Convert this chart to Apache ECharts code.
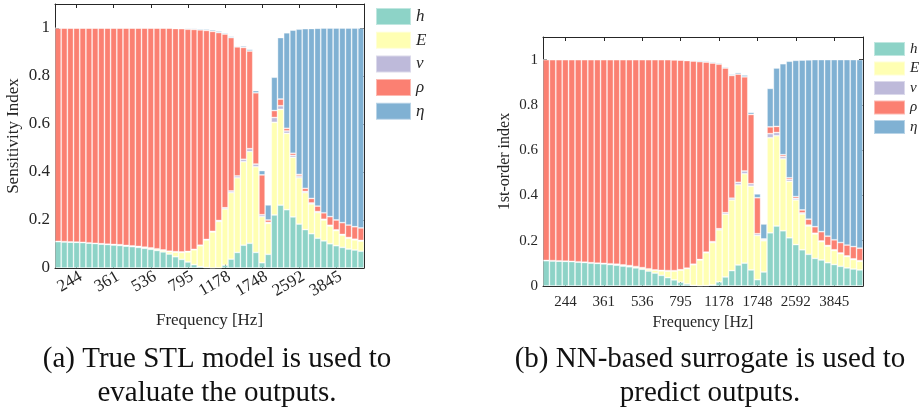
<!DOCTYPE html>
<html><head><meta charset="utf-8">
<script src="https://cdn.jsdelivr.net/npm/echarts@6/dist/echarts.min.js"></script>
<style>html,body{margin:0;padding:0;background:#fff}#c{width:921px;height:412px}</style>
</head><body><div id="c"></div>
<script>
// Frequency categories [Hz] (50 bars, log spaced)
const freqs = ['200','214','228','244','260','278','297','317','338','361','386','412','440','470','502','536','572','611','652','697','744','795','849','906','968','1033','1104','1178','1258','1344','1435','1533','1637','1748','1867','1993','2129','2273','2427','2592','2768','2956','3157','3371','3600','3845','4106','4384','4682','5000'];
const tickLabels = ['244','361','536','795','1178','1748','2592','3845'];
const yTicks = [0, 0.2, 0.4, 0.6, 0.8, 1];
const seriesNames = ['h','E','ν','ρ','η'];

// (a) True STL model
const hA   = [.110,.109,.108,.107,.106,.104,.102,.100,.098,.096,.094,.091,.089,.086,.082,.078,.073,.067,.058,.047,.036,.025,.014,.006,.002,.000,.001,.012,.037,.065,.095,.103,.065,.022,.057,.221,.262,.243,.213,.183,.160,.143,.124,.113,.101,.093,.086,.079,.075,.070];
const EA   = [0,0,0,0,0,0,0,0,0,.001,.002,.002,.002,.003,.004,.005,.006,.007,.010,.019,.029,.042,.062,.087,.115,.150,.193,.234,.277,.311,.348,.382,.357,.192,.129,.386,.399,.318,.248,.193,.154,.124,.107,.087,.074,.063,.051,.045,.042,.042];
const nuA  = [.001,.001,.001,.001,.001,.001,.001,.001,.001,.001,.001,.001,.001,.001,.001,.001,.001,.001,.002,.002,.002,.002,.002,.002,.002,.003,.004,.005,.007,.008,.010,.012,.011,.008,.004,.020,.015,.010,.008,.007,.005,.004,.004,.003,.003,.003,.003,.003,.003,.003];
const rhoA = [.889,.890,.891,.892,.893,.895,.897,.899,.901,.902,.903,.906,.908,.910,.913,.916,.920,.925,.930,.930,.930,.926,.916,.897,.871,.833,.783,.724,.639,.537,.466,.407,.297,.166,.010,.029,.028,.011,.009,.007,.013,.019,.023,.027,.036,.041,.049,.052,.052,.052];
const etaA = [0,0,0,0,0,0,0,0,0,0,0,0,0,0,0,0,0,0,0,.002,.003,.004,.004,.005,.005,.006,.006,.005,.005,.004,.006,.007,.009,.018,.063,.139,.256,.398,.513,.605,.665,.708,.741,.770,.786,.800,.811,.821,.828,.833];

// (b) NN-based surrogate
const hB   = [.112,.111,.110,.109,.108,.106,.104,.102,.100,.098,.095,.092,.088,.085,.080,.074,.066,.057,.047,.037,.027,.017,.009,.003,.001,.002,.005,.018,.040,.068,.093,.101,.071,.028,.062,.235,.265,.244,.213,.183,.160,.140,.122,.115,.103,.095,.087,.080,.075,.071];
const EB   = [0,0,0,0,0,0,0,0,0,.001,.002,.003,.004,.004,.005,.006,.009,.013,.020,.029,.039,.053,.068,.091,.114,.145,.187,.230,.277,.312,.354,.395,.370,.195,.138,.420,.399,.318,.249,.197,.158,.125,.108,.081,.073,.062,.056,.050,.042,.038];
const nuB  = [.001,.001,.001,.001,.001,.001,.001,.001,.001,.001,.001,.001,.001,.001,.001,.001,.001,.001,.002,.002,.002,.002,.002,.002,.002,.003,.004,.005,.007,.008,.011,.012,.011,.008,.004,.018,.014,.010,.008,.007,.005,.004,.003,.003,.003,.003,.003,.003,.003,.003];
const rhoB = [.887,.888,.889,.890,.891,.893,.895,.897,.899,.900,.902,.904,.907,.910,.914,.919,.924,.929,.931,.932,.931,.926,.917,.898,.874,.839,.789,.727,.639,.542,.478,.416,.306,.159,.004,.030,.027,.008,.008,.008,.013,.026,.029,.041,.041,.044,.046,.048,.054,.055];
const etaB = [0,0,0,0,0,0,0,0,0,0,0,0,0,0,0,0,0,0,0,0,.001,.002,.003,.004,.005,.005,.005,.005,.005,.005,.007,.008,.009,.017,.066,.170,.258,.402,.515,.602,.662,.704,.738,.760,.780,.796,.808,.819,.826,.833];

const colors = ['#8DD3C7','#FFFFB3','#BEBADA','#FB8072','#80B1D3'];
const serif = '"Liberation Serif", "DejaVu Serif", serif';
const axisColor = '#262626';
const textColor = '#262626';

const isTick = (i) => tickLabels.indexOf(freqs[i]) >= 0;
const yFmt = (v) => {
  for (const t of yTicks) if (Math.abs(v - t) < 1e-6) return String(t);
  return '';
};

function makeX(gi, rotate, fs, nameFs, nameGap, margin, pad) {
  return [{
    type: 'category', gridIndex: gi, data: freqs, position: 'bottom', boundaryGap: true,
    axisLine: { show: true, onZero: false, lineStyle: { color: axisColor, width: 1 } },
    axisTick: { show: true, inside: true, length: 4, alignWithLabel: true, interval: isTick, lineStyle: { color: axisColor } },
    axisLabel: { show: true, interval: isTick, rotate: rotate, fontSize: fs, fontFamily: serif, color: textColor, margin: margin, padding: pad },
    splitLine: { show: false },
    name: 'Frequency [Hz]', nameLocation: 'middle', nameGap: nameGap,
    nameTextStyle: { fontFamily: serif, fontSize: nameFs, color: textColor }
  }, {
    type: 'category', gridIndex: gi, data: freqs, position: 'top', boundaryGap: true,
    axisLine: { show: true, onZero: false, lineStyle: { color: axisColor, width: 1 } },
    axisTick: { show: true, inside: true, length: 4, alignWithLabel: true, interval: isTick, lineStyle: { color: axisColor } },
    axisLabel: { show: false, interval: isTick },
    splitLine: { show: false }
  }];
}
function makeY(gi, fs, name, nameFs, nameGap) {
  return [{
    type: 'value', gridIndex: gi, position: 'left', min: 0, max: 1.1, interval: 0.2,
    axisLine: { show: true, onZero: false, lineStyle: { color: axisColor, width: 1 } },
    axisTick: { show: true, inside: true, length: 4, lineStyle: { color: axisColor } },
    axisLabel: { show: true, formatter: yFmt, fontSize: fs, fontFamily: serif, color: textColor, margin: 5, showMaxLabel: false },
    splitLine: { show: false },
    name: name, nameLocation: 'middle', nameGap: nameGap,
    nameTextStyle: { fontFamily: serif, fontSize: nameFs, color: textColor }
  }, {
    type: 'value', gridIndex: gi, position: 'right', min: 0, max: 1.1, interval: 0.2,
    axisLine: { show: true, onZero: false, lineStyle: { color: axisColor, width: 1 } },
    axisTick: { show: true, inside: true, length: 4, lineStyle: { color: axisColor } },
    axisLabel: { show: false },
    splitLine: { show: false }
  }];
}

const dataA = [hA, EA, nuA, rhoA, etaA];
const dataB = [hB, EB, nuB, rhoB, etaB];
const series = [];
[[dataA, 0, 0, 'A'], [dataB, 2, 2, 'B']].forEach(([d, xi, yi, st]) => {
  seriesNames.forEach((n, k) => {
    series.push({
      name: n, type: 'bar', stack: st, xAxisIndex: xi, yAxisIndex: yi,
      data: d[k], barCategoryGap: '0%',
      itemStyle: { color: colors[k], borderColor: 'rgba(255,255,255,0.45)', borderWidth: 0.8 },
      emphasis: { disabled: true }
    });
  });
});

const legendBase = {
  data: seriesNames, orient: 'vertical', icon: 'rect', selectedMode: false, padding: 0
};

const option = {
  animation: false,
  backgroundColor: '#fff',
  grid: [
    { left: 55, top: 4, width: 309, height: 264, containLabel: false },
    { left: 543, top: 37, width: 320, height: 249, containLabel: false }
  ],
  xAxis: [...makeX(0, 30, 17, 17, 44, 10, [22, -5, 0, 0]), ...makeX(1, 0, 15, 16, 27, 9, 0)],
  yAxis: [...makeY(0, 17, 'Sensitivity Index', 17, 33), ...makeY(1, 15, '1st-order index', 16, 30)],
  legend: [
    Object.assign({}, legendBase, { left: 375, top: 7, itemWidth: 35, itemHeight: 17, itemGap: 4.7,
      textStyle: { fontFamily: serif, fontStyle: 'italic', color: textColor, fontSize: 17, lineHeight: 17 } }),
    Object.assign({}, legendBase, { left: 873, top: 41, itemWidth: 31, itemHeight: 14, itemGap: 3.5,
      textStyle: { fontFamily: serif, fontStyle: 'italic', color: textColor, fontSize: 15, lineHeight: 14 } })
  ],
  title: [
    { text: '(a) True STL model is used to\nevaluate the outputs.', left: 217, top: 343, textAlign: 'center', padding: 0,
      textStyle: { fontFamily: serif, fontWeight: 'normal', fontSize: 29, lineHeight: 33.5, color: '#111' } },
    { text: '(b) NN-based surrogate is used to\npredict outputs.', left: 710, top: 343, textAlign: 'center', padding: 0,
      textStyle: { fontFamily: serif, fontWeight: 'normal', fontSize: 29, lineHeight: 33.5, color: '#111' } }
  ],
  series: series
};

const chart = echarts.init(document.getElementById('c'), null, { renderer: 'canvas' });
chart.setOption(option);
</script>
</body></html>
